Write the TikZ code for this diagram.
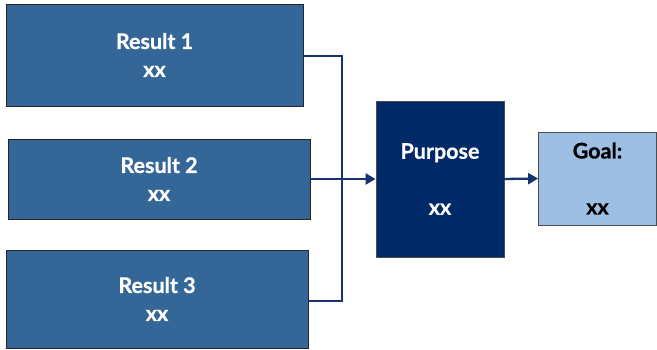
\documentclass[tikz,border=0pt]{standalone}
\usepackage{fontspec}
\setmainfont{Lato}[BoldFeatures={FakeBold=0.6}]
\usetikzlibrary{arrows.meta}
\definecolor{resblue}{RGB}{52,103,152}
\definecolor{purpblue}{RGB}{0,41,104}
\definecolor{goalblue}{RGB}{158,191,228}
\definecolor{linkblue}{RGB}{22,50,112}
\tikzset{
  boxtext/.style={font=\bfseries\fontsize{21.5}{28}\selectfont, align=center, inner sep=0pt},
  resbox/.style={boxtext, draw=black!85, line width=0.8pt, fill=resblue, text=white},
  purpbox/.style={boxtext, draw=black!70, line width=0.8pt, fill=purpblue, text=white},
  goalbox/.style={boxtext, draw=black!70, line width=0.8pt, fill=goalblue, text=black},
  link/.style={draw=linkblue, line width=2.3pt},
  arrowlink/.style={link, -{Triangle[length=10pt,width=11pt]}}
}
\begin{document}
\begin{tikzpicture}[x=1pt,y=1pt]
\useasboundingbox (0,0) rectangle (657,350);
% y_tikz = 350 - y_px
\node[resbox, minimum width=297pt, minimum height=102pt] (r1) at (154.5,295) {Result 1\\xx};
\node[resbox, minimum width=302pt, minimum height=80pt] (r2) at (159,171) {Result 2\\xx};
\node[resbox, minimum width=302pt, minimum height=98pt] (r3) at (157,51) {Result 3\\xx};
\node[purpbox, minimum width=128pt, minimum height=156pt] (p) at (440,171) {Purpose\\[28pt]xx};
\node[goalbox, minimum width=118pt, minimum height=93pt] (g) at (597.5,171.5) {Goal:\\[28pt]xx};
\coordinate (j1) at (342,294);
\coordinate (j3) at (342,49);
\draw[link] (r1.east |- j1) -- (j1) -- (j3) -- (r3.east |- j3);
\draw[arrowlink] (r2.east) -- (p.west);
\draw[arrowlink] (p.east) -- (g.west);
\end{tikzpicture}
\end{document}
